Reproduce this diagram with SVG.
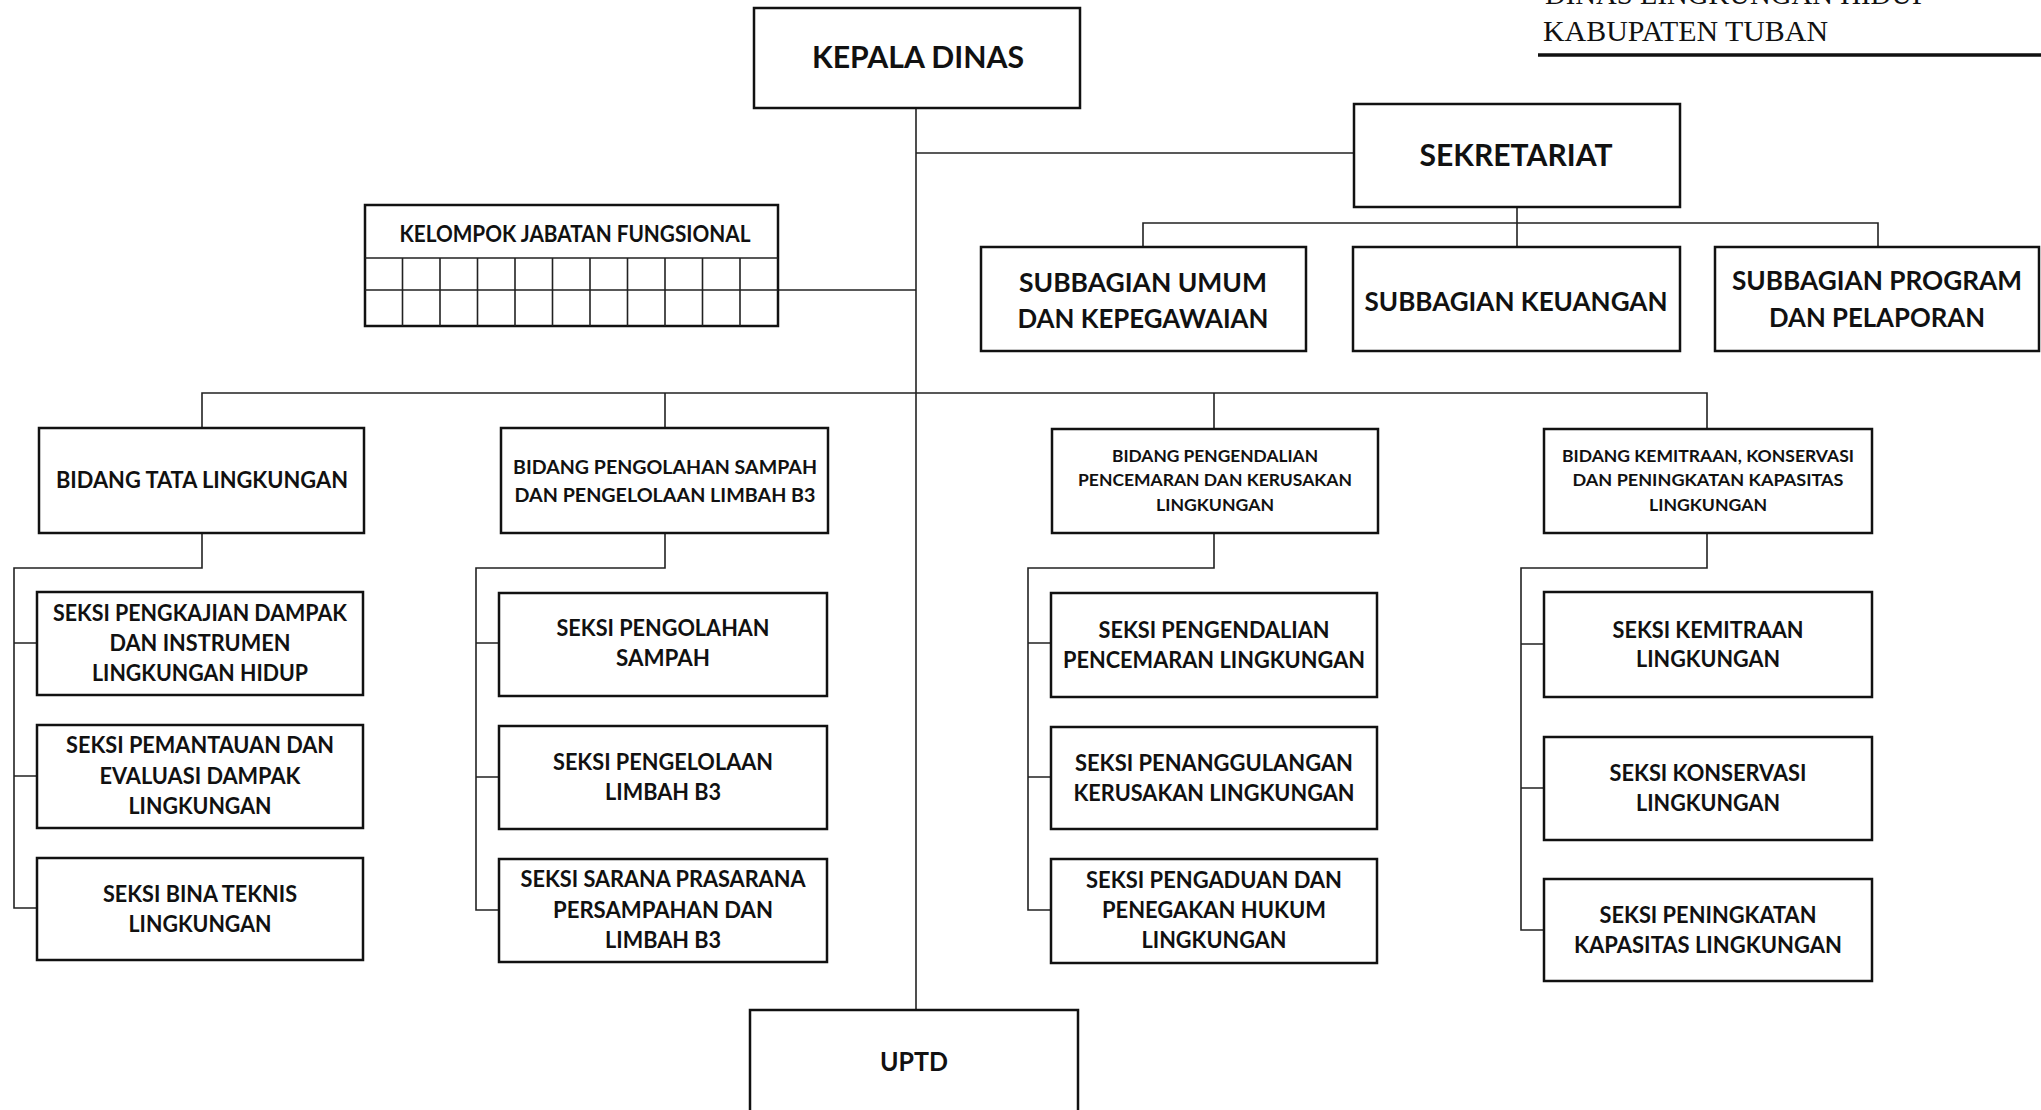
<svg xmlns="http://www.w3.org/2000/svg" width="2041" height="1110" viewBox="0 0 2041 1110">
<style>
.bx{fill:#fff;stroke:#111;stroke-width:2.5}
.ln{fill:none;stroke:#222;stroke-width:1.6}
.t{font-family:Lato,"Open Sans","Liberation Sans",sans-serif;font-weight:700;fill:#111;text-anchor:middle}
.s{font-size:22px}
.b1{font-size:22px}
.b2{font-size:19.5px}
.b3{font-size:17.5px}
.sb{font-size:27px}
.ttl{font-family:"Liberation Serif","DejaVu Serif",serif;font-size:29px;fill:#111}
</style>
<rect width="2041" height="1110" fill="#fff"/>
<g id="title">
<text class="ttl" x="1545" y="4" textLength="383" lengthAdjust="spacingAndGlyphs">DINAS LINGKUNGAN HIDUP</text>
<text class="ttl" x="1543" y="41" textLength="285" lengthAdjust="spacingAndGlyphs">KABUPATEN TUBAN</text>
<line x1="1538" y1="55" x2="2041" y2="55" stroke="#111" stroke-width="3.5"/>
</g>
<g id="connectors">
<line class="ln" x1="916" y1="108" x2="916" y2="1010"/>
<line class="ln" x1="916" y1="153" x2="1354" y2="153"/>
<line class="ln" x1="778" y1="290" x2="916" y2="290"/>
<path class="ln" d="M1517 207V223M1143 247V223H1878V247M1517 223V247"/>
<path class="ln" d="M202 428V393H1707V428M665 393V428M1214 393V428"/>
<path class="ln" d="M202 533V568H14V908H37M14 643H37M14 776H37"/>
<path class="ln" d="M665 533V568H476V910H499M476 643H499M476 777H499"/>
<path class="ln" d="M1214 533V568H1028V910H1051M1028 643H1051M1028 777H1051"/>
<path class="ln" d="M1707 533V568H1521V930H1544M1521 644H1544M1521 788H1544"/>
</g>
<g id="kepala">
<rect class="bx" x="754" y="8" width="326" height="100"/>
<text class="t" x="918" y="68" font-size="31" textLength="212" lengthAdjust="spacingAndGlyphs">KEPALA DINAS</text>
</g>
<g id="sekretariat">
<rect class="bx" x="1354" y="104" width="326" height="103"/>
<text class="t" x="1516" y="166" font-size="30" textLength="193" lengthAdjust="spacingAndGlyphs">SEKRETARIAT</text>
</g>
<g id="subbag-umum">
<rect class="bx" x="981" y="247" width="325" height="104"/>
<text class="t sb" x="1143" y="292" textLength="248" lengthAdjust="spacingAndGlyphs">SUBBAGIAN UMUM</text>
<text class="t sb" x="1143" y="328" textLength="251" lengthAdjust="spacingAndGlyphs">DAN KEPEGAWAIAN</text>
</g>
<g id="subbag-keuangan">
<rect class="bx" x="1353" y="247" width="327" height="104"/>
<text class="t sb" x="1516" y="311" textLength="303" lengthAdjust="spacingAndGlyphs">SUBBAGIAN KEUANGAN</text>
</g>
<g id="subbag-program">
<rect class="bx" x="1715" y="247" width="324" height="104"/>
<text class="t sb" x="1877" y="290" textLength="290" lengthAdjust="spacingAndGlyphs">SUBBAGIAN PROGRAM</text>
<text class="t sb" x="1877" y="327" textLength="216" lengthAdjust="spacingAndGlyphs">DAN PELAPORAN</text>
</g>
<g id="kelompok">
<rect class="bx" x="365" y="205" width="413" height="121"/>
<path class="ln" stroke-width="2" d="M365 258H778M365 290H778M402.5 258V326M440 258V326M477.5 258V326M515 258V326M552.5 258V326M590 258V326M627.5 258V326M665 258V326M702.5 258V326M740 258V326"/>
<text class="t" x="575" y="242" font-size="23" textLength="351" lengthAdjust="spacingAndGlyphs">KELOMPOK JABATAN FUNGSIONAL</text>
</g>
<g id="bidang-tata">
<rect class="bx" x="39" y="428" width="325" height="105"/>
<text class="t b1" x="202" y="488" textLength="292" lengthAdjust="spacingAndGlyphs">BIDANG TATA LINGKUNGAN</text>
</g>
<g id="bidang-sampah">
<rect class="bx" x="501" y="428" width="327" height="105"/>
<text class="t b2" x="665" y="474" textLength="304" lengthAdjust="spacingAndGlyphs">BIDANG PENGOLAHAN SAMPAH</text>
<text class="t b2" x="665" y="502" textLength="301" lengthAdjust="spacingAndGlyphs">DAN PENGELOLAAN LIMBAH B3</text>
</g>
<g id="bidang-pengendalian">
<rect class="bx" x="1052" y="429" width="326" height="104"/>
<text class="t b3" x="1215" y="462" textLength="206" lengthAdjust="spacingAndGlyphs">BIDANG PENGENDALIAN</text>
<text class="t b3" x="1215" y="486" textLength="274" lengthAdjust="spacingAndGlyphs">PENCEMARAN DAN  KERUSAKAN</text>
<text class="t b3" x="1215" y="511" textLength="118" lengthAdjust="spacingAndGlyphs">LINGKUNGAN</text>
</g>
<g id="bidang-kemitraan">
<rect class="bx" x="1544" y="429" width="328" height="104"/>
<text class="t b3" x="1708" y="462" textLength="292" lengthAdjust="spacingAndGlyphs">BIDANG KEMITRAAN, KONSERVASI</text>
<text class="t b3" x="1708" y="486" textLength="271" lengthAdjust="spacingAndGlyphs">DAN PENINGKATAN KAPASITAS</text>
<text class="t b3" x="1708" y="511" textLength="118" lengthAdjust="spacingAndGlyphs">LINGKUNGAN</text>
</g>
<g id="seksi-pengkajian">
<rect class="bx" x="37" y="592" width="326" height="103"/>
<text class="t s" x="200" y="621" textLength="294" lengthAdjust="spacingAndGlyphs">SEKSI PENGKAJIAN DAMPAK</text>
<text class="t s" x="200" y="651" textLength="181" lengthAdjust="spacingAndGlyphs">DAN INSTRUMEN</text>
<text class="t s" x="200" y="681" textLength="216" lengthAdjust="spacingAndGlyphs">LINGKUNGAN HIDUP</text>
</g>
<g id="seksi-pemantauan">
<rect class="bx" x="37" y="725" width="326" height="103"/>
<text class="t s" x="200" y="753" textLength="268" lengthAdjust="spacingAndGlyphs">SEKSI PEMANTAUAN DAN</text>
<text class="t s" x="200" y="784" textLength="201" lengthAdjust="spacingAndGlyphs">EVALUASI DAMPAK</text>
<text class="t s" x="200" y="814" textLength="143" lengthAdjust="spacingAndGlyphs">LINGKUNGAN</text>
</g>
<g id="seksi-bina">
<rect class="bx" x="37" y="858" width="326" height="102"/>
<text class="t s" x="200" y="902" textLength="194" lengthAdjust="spacingAndGlyphs">SEKSI BINA TEKNIS</text>
<text class="t s" x="200" y="932" textLength="143" lengthAdjust="spacingAndGlyphs">LINGKUNGAN</text>
</g>
<g id="seksi-pengolahan">
<rect class="bx" x="499" y="593" width="328" height="103"/>
<text class="t s" x="663" y="636" textLength="213" lengthAdjust="spacingAndGlyphs">SEKSI PENGOLAHAN</text>
<text class="t s" x="663" y="666" textLength="94" lengthAdjust="spacingAndGlyphs">SAMPAH</text>
</g>
<g id="seksi-limbah">
<rect class="bx" x="499" y="726" width="328" height="103"/>
<text class="t s" x="663" y="770" textLength="220" lengthAdjust="spacingAndGlyphs">SEKSI PENGELOLAAN</text>
<text class="t s" x="663" y="800" textLength="116" lengthAdjust="spacingAndGlyphs">LIMBAH B3</text>
</g>
<g id="seksi-sarana">
<rect class="bx" x="499" y="859" width="328" height="103"/>
<text class="t s" x="663" y="887" textLength="285" lengthAdjust="spacingAndGlyphs">SEKSI SARANA PRASARANA</text>
<text class="t s" x="663" y="918" textLength="220" lengthAdjust="spacingAndGlyphs">PERSAMPAHAN DAN</text>
<text class="t s" x="663" y="948" textLength="116" lengthAdjust="spacingAndGlyphs">LIMBAH B3</text>
</g>
<g id="seksi-pengendalian">
<rect class="bx" x="1051" y="593" width="326" height="104"/>
<text class="t s" x="1214" y="638" textLength="231" lengthAdjust="spacingAndGlyphs">SEKSI PENGENDALIAN</text>
<text class="t s" x="1214" y="668" textLength="302" lengthAdjust="spacingAndGlyphs">PENCEMARAN LINGKUNGAN</text>
</g>
<g id="seksi-penanggulangan">
<rect class="bx" x="1051" y="727" width="326" height="102"/>
<text class="t s" x="1214" y="771" textLength="278" lengthAdjust="spacingAndGlyphs">SEKSI PENANGGULANGAN</text>
<text class="t s" x="1214" y="801" textLength="281" lengthAdjust="spacingAndGlyphs">KERUSAKAN LINGKUNGAN</text>
</g>
<g id="seksi-pengaduan">
<rect class="bx" x="1051" y="859" width="326" height="104"/>
<text class="t s" x="1214" y="888" textLength="256" lengthAdjust="spacingAndGlyphs">SEKSI PENGADUAN DAN</text>
<text class="t s" x="1214" y="918" textLength="224" lengthAdjust="spacingAndGlyphs">PENEGAKAN HUKUM</text>
<text class="t s" x="1214" y="948" textLength="145" lengthAdjust="spacingAndGlyphs">LINGKUNGAN</text>
</g>
<g id="seksi-kemitraan">
<rect class="bx" x="1544" y="592" width="328" height="105"/>
<text class="t s" x="1708" y="638" textLength="191" lengthAdjust="spacingAndGlyphs">SEKSI KEMITRAAN</text>
<text class="t s" x="1708" y="667" textLength="144" lengthAdjust="spacingAndGlyphs">LINGKUNGAN</text>
</g>
<g id="seksi-konservasi">
<rect class="bx" x="1544" y="737" width="328" height="103"/>
<text class="t s" x="1708" y="781" textLength="197" lengthAdjust="spacingAndGlyphs">SEKSI KONSERVASI</text>
<text class="t s" x="1708" y="811" textLength="144" lengthAdjust="spacingAndGlyphs">LINGKUNGAN</text>
</g>
<g id="seksi-peningkatan">
<rect class="bx" x="1544" y="879" width="328" height="102"/>
<text class="t s" x="1708" y="923" textLength="217" lengthAdjust="spacingAndGlyphs">SEKSI PENINGKATAN</text>
<text class="t s" x="1708" y="953" textLength="268" lengthAdjust="spacingAndGlyphs">KAPASITAS LINGKUNGAN</text>
</g>
<g id="uptd">
<rect class="bx" x="750" y="1010" width="328" height="112"/>
<text class="t" x="914" y="1071" font-size="27" textLength="68" lengthAdjust="spacingAndGlyphs">UPTD</text>
</g>
</svg>
